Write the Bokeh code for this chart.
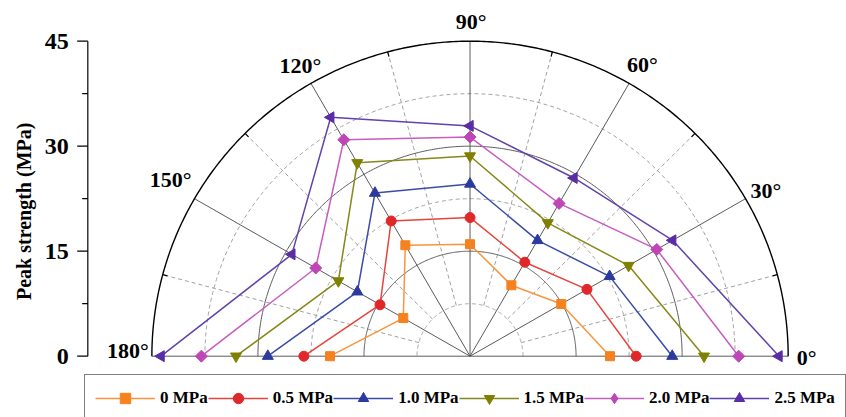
import numpy as np
from bokeh.plotting import figure
from bokeh.models import Legend, LegendItem, ColumnDataSource
from bokeh.core.properties import value
from bokeh.embed import file_html
from bokeh.resources import INLINE

# ---------------- data ----------------
angles_deg = [0, 30, 60, 90, 120, 150, 180]
series_names = ["0 MPa", "0.5 MPa", "1.0 MPa", "1.5 MPa", "2.0 MPa", "2.5 MPa"]
s0_0 = [19.8, 14.9, 11.7, 16.0, 18.3, 10.9, 19.8]
s0_5 = [23.5, 19.1, 15.5, 19.8, 22.3, 14.7, 23.5]
s1_0 = [28.6, 22.8, 19.1, 24.6, 26.9, 18.4, 28.6]
s1_5 = [33.1, 25.9, 22.0, 28.6, 31.9, 21.5, 33.1]
s2_0 = [38.0, 30.5, 25.2, 31.3, 35.7, 25.2, 38.0]
s2_5 = [43.7, 33.1, 29.4, 32.9, 39.4, 29.1, 43.7]
series_values = [s0_0, s0_5, s1_0, s1_5, s2_0, s2_5]

r_ticks = [0, 15, 30, 45]
r_minor_ticks = [7.5, 22.5, 37.5]
r_tick_labels = ["0", "15", "30", "45"]
angle_ticks = [0, 30, 60, 90, 120, 150, 180]
angle_minor_ticks = [15, 45, 75, 105, 135, 165]
angle_labels = ["0°", "30°", "60°", "90°", "120°", "150°", "180°"]
r_max = 45
y_title = "Peak strength (MPa)"

# ---------------- styles ----------------
line_colors = ["#F7953F", "#E4443C", "#3A4CA8", "#87871A", "#C65DC0", "#6242AC"]
marker_colors = ["#F5821F", "#E0282A", "#2B3A9F", "#7F8000", "#BE46B5", "#5A2DA5"]
markers = ["square", "circle", "triangle", "inverted_triangle", "square", "triangle"]
legend_markers = ["square", "circle", "triangle", "inverted_triangle", "diamond", "triangle"]
marker_angles = [0, 0, 0, 0, np.pi / 4, np.pi / 2]
marker_sizes = [9, 10, 11, 11, 8.5, 11]
# label placement (polar: radius, angle in degrees)
lab_r = [47.6, 48.1, 48.3, 47.8, 48.0, 49.3, 48.4]
lab_ang = [-0.2, 29.5, 59.7, 89.8, 120.0, 149.2, 179.0]
FONT = value("Liberation Serif")

p = figure(width=846, height=417, output_backend="svg", toolbar_location=None,
           x_range=(-66.41, 53.25), y_range=(-8.757, 50.81),
           x_axis_type=None, y_axis_type=None, min_border=0,
           background_fill_color="white", border_fill_color="white")
p.outline_line_color = None
p.grid.visible = False

def arc_xy(r):
    t = np.linspace(0, np.pi, 361)
    return list(r * np.cos(t)), list(r * np.sin(t))

# dashed circles
for r in r_minor_ticks:
    xs, ys = arc_xy(r)
    p.line(xs, ys, line_color="#a0a0a0", line_width=1, line_dash="4 3")
# dashed minor spokes
for a in angle_minor_ticks:
    t = np.radians(a)
    p.line([r_minor_ticks[0] * np.cos(t), r_max * np.cos(t)],
           [r_minor_ticks[0] * np.sin(t), r_max * np.sin(t)],
           line_color="#a0a0a0", line_width=1, line_dash="4 3")
# solid circles
for r in r_ticks[1:-1]:
    xs, ys = arc_xy(r)
    p.line(xs, ys, line_color="#5a5a5a", line_width=1)
# solid spokes
for a in angle_ticks:
    t = np.radians(a)
    p.line([0, r_max * np.cos(t)], [0, r_max * np.sin(t)],
           line_color="#5a5a5a", line_width=1)
# outer circle
xs, ys = arc_xy(r_max)
p.line(xs, ys, line_color="black", line_width=1.4)
# outer minor ticks
for a in angle_minor_ticks:
    t = np.radians(a)
    p.line([r_max * np.cos(t), (r_max - 0.7) * np.cos(t)],
           [r_max * np.sin(t), (r_max - 0.7) * np.sin(t)],
           line_color="black", line_width=1.2)

# angle labels
lx = [r * np.cos(np.radians(a)) for r, a in zip(lab_r, lab_ang)]
ly = [r * np.sin(np.radians(a)) for r, a in zip(lab_r, lab_ang)]
p.text(x=lx, y=ly, text=angle_labels, text_font=FONT, text_font_style="bold",
       text_font_size="22px", text_align="center", text_baseline="middle",
       text_color="black")

# left y-axis (drawn in data units)
axis_x = -54.06
p.line([axis_x, axis_x], [r_ticks[0], r_ticks[-1]], line_color="black", line_width=1.2)
p.segment(x0=[axis_x] * len(r_ticks), y0=r_ticks, x1=[axis_x - 1.5] * len(r_ticks), y1=r_ticks,
          line_color="black", line_width=1.2)
p.segment(x0=[axis_x] * len(r_minor_ticks), y0=r_minor_ticks,
          x1=[axis_x - 0.8] * len(r_minor_ticks), y1=r_minor_ticks,
          line_color="black", line_width=1.2)
p.text(x=[axis_x] * len(r_ticks), y=r_ticks, text=r_tick_labels, x_offset=-19,
       text_font=FONT, text_font_style="bold", text_font_size="24px",
       text_align="right", text_baseline="middle", text_color="black")
p.text(x=[axis_x], y=[(r_ticks[0] + r_ticks[-1]) / 2 - 1.8], text=[y_title], x_offset=-64,
       angle=np.pi / 2, text_font=FONT, text_font_style="bold", text_font_size="20px",
       text_align="center", text_baseline="middle", text_color="black")

# series
items = []
for name, vals, lc, mc, mk, lmk, ma, ms in zip(series_names, series_values, line_colors,
                                               marker_colors, markers, legend_markers,
                                               marker_angles, marker_sizes):
    t = np.radians(angles_deg)
    src = ColumnDataSource(dict(x=np.array(vals) * np.cos(t), y=np.array(vals) * np.sin(t)))
    lr = p.line("x", "y", source=src, line_color=lc, line_width=1.5)
    sr = p.scatter("x", "y", source=src, marker=mk, size=ms, angle=ma,
                   fill_color=mc, line_color=mc)
    if lmk != mk:
        # legend-only glyph (no visible point in the plot)
        leg_sr = p.scatter(x=[np.nan], y=[np.nan], marker=lmk, size=ms,
                           fill_color=mc, line_color=mc)
    else:
        leg_sr = sr
    items.append(LegendItem(label=name, renderers=[lr, leg_sr]))

legend = Legend(items=items, orientation="horizontal", location=(84, -5),
                glyph_width=60, glyph_height=26, label_standoff=5, spacing=0,
                padding=10, margin=0,
                label_text_font="Liberation Serif", label_text_font_style="bold",
                label_text_font_size="17px", label_text_color="black",
                border_line_color="black", border_line_width=1.5,
                background_fill_color="white", background_fill_alpha=1)
p.add_layout(legend)

open("out.html", "w").write(file_html(p, INLINE))
